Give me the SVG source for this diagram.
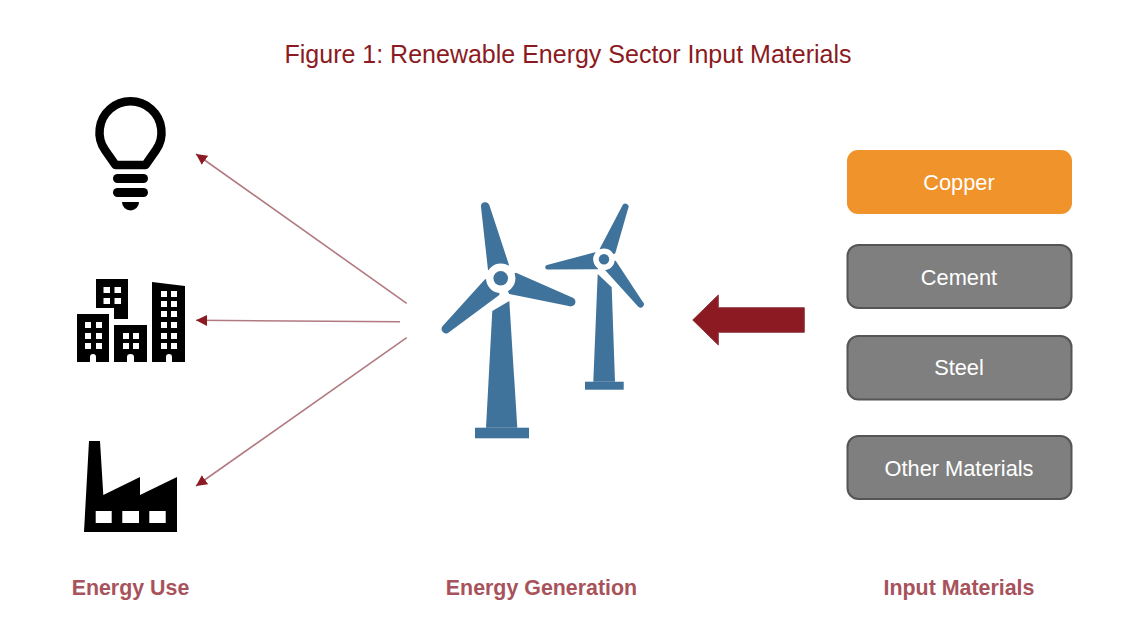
<svg xmlns="http://www.w3.org/2000/svg" width="1129" height="620" viewBox="0 0 1129 620">
<style>
text{font-family:"Liberation Sans",Arial,sans-serif;text-anchor:middle}
.title{font-size:25px;fill:#8b1a22}
.cap{font-size:21.400px;font-weight:700;fill:#a8525b}
.lbl{font-size:21.800px;fill:#fff}
.box{stroke-width:2}
.gray{fill:#7f7f7f;stroke:#555}
.w{fill:#fff}
.k{fill:#000}
.t{fill:#3f739b}
.c{stroke:#b17a80;stroke-width:1.6;fill:none;marker-end:url(#h)}
</style>
<defs>
<marker id="h" markerUnits="userSpaceOnUse" markerWidth="12" markerHeight="12" refX="11" refY="5.500" orient="auto"><path d="M0 0L11 5.500L0 11Z" fill="#8b1a22"/></marker>
</defs>
<text class="title" x="568" y="63">Figure 1: Renewable Energy Sector Input Materials</text>
<g id="bulb">
<path d="M115.500 165L105 150A31 31 0 1 1 156 150L145.500 165Z" fill="none" stroke="#000" stroke-width="8.500" stroke-linejoin="round"/>
<rect class="k" x="113" y="174" width="35" height="9" rx="4.500"/>
<rect class="k" x="113" y="188" width="35" height="9" rx="4.500"/>
<path class="k" d="M122 202H139A8.500 8.500 0 0 1 122 202Z"/>
</g>
<g id="buildings">
<path class="k" d="M96 279H128V319H114V308H96Z"/>
<path class="k" d="M77 314H109V362H96V357Q96 354 93 354Q90 354 90 357V362H77Z"/>
<path class="k" d="M114 325H147V362H134V357Q134 354 130.500 354Q127 354 127 357V362H114Z"/>
<path class="k" d="M152 282L185 286V362H172V357Q172 354 169 354Q166 354 166 357V362H152Z"/>
<g class="w">
<rect x="103.500" y="287" width="6.500" height="6"/><rect x="114.500" y="287" width="6.500" height="6"/><rect x="103.500" y="298" width="6.500" height="6"/><rect x="114.500" y="298" width="6.500" height="6"/>
<rect x="85" y="322" width="6" height="6"/><rect x="96" y="322" width="6" height="6"/><rect x="85" y="333" width="6" height="6"/><rect x="96" y="333" width="6" height="6"/><rect x="85" y="343" width="6" height="6"/><rect x="96" y="343" width="6" height="6"/>
<rect x="123" y="333" width="6" height="6"/><rect x="133" y="333" width="6" height="6"/><rect x="123" y="343" width="6" height="6"/><rect x="133" y="343" width="6" height="6"/>
<rect x="161" y="291" width="6" height="6"/><rect x="171" y="291" width="6" height="6"/><rect x="161" y="301" width="6" height="6"/><rect x="171" y="301" width="6" height="6"/><rect x="161" y="311" width="6" height="6"/><rect x="171" y="311" width="6" height="6"/><rect x="161" y="322" width="6" height="6"/><rect x="171" y="322" width="6" height="6"/><rect x="161" y="333" width="6" height="6"/><rect x="171" y="333" width="6" height="6"/><rect x="161" y="343" width="6" height="6"/><rect x="171" y="343" width="6" height="6"/>
</g>
</g>
<g id="factory">
<path class="k" d="M89 441H100L103.300 495L140 477V495L177 477V532H84Z"/>
<g class="w"><rect x="95.700" y="511" width="16" height="12"/><rect x="122.300" y="511" width="16.700" height="12"/><rect x="149.300" y="511" width="16.400" height="12"/></g>
</g>
<g id="connectors">
<path class="c" d="M406.700 303.300L196 154"/>
<path class="c" d="M400 321.700L196 320.300"/>
<path class="c" d="M406.700 337.700L196 486"/>
<path d="M804.300 307.700H718.300V295L692.700 320L718.300 345V332.300H804.300Z" fill="#8b1a22" stroke="#8f3a40"/>
</g>
<g id="turbines">
<path class="t" d="M481 207A4.300 4.300 0 0 1 489.300 205L509 265L500.700 278.300L488 270Z"/>
<path class="t" d="M516 272.700L571.700 297.300A4.500 4.500 0 0 1 570 306.300L509.300 294L500.700 278.300Z"/>
<path class="t" d="M485 279.300L442.700 326A4.500 4.500 0 0 0 448 333L499.300 295L500.700 278.300Z"/>
<circle class="w" cx="500.700" cy="278.300" r="14.700"/>
<circle class="t" cx="500.700" cy="278.300" r="7.300"/>
<path class="t" d="M492.300 311L509.300 301L517.300 427.700H486Z"/>
<rect class="t" x="475" y="427.700" width="54" height="10.600"/>
<path class="t" d="M600 248.300L622.700 205A3.300 3.300 0 0 1 628.700 206.500L615.300 253.300L604 259.300Z"/>
<path class="t" d="M595 252.300L547 265A2.300 2.300 0 0 0 547 269.500L597.700 269.300L604 259.300Z"/>
<path class="t" d="M615.700 260.700L642.700 301.700A3.200 3.200 0 0 1 638.300 306.700L605 270L604 259.300Z"/>
<circle class="w" cx="604" cy="259.300" r="10.800"/>
<circle class="t" cx="604" cy="259.300" r="5.200"/>
<path class="t" d="M597.700 274L611.700 287.300L615 381.700H593.300Z"/>
<rect class="t" x="585" y="381.700" width="38.700" height="8"/>
</g>
<g id="copper"><rect x="847" y="150" width="225" height="64" rx="11" fill="#f0932b"/><text class="lbl" x="959" y="190">Copper</text></g>
<g id="cement"><rect class="box gray" x="847.500" y="245" width="224" height="63" rx="11"/><text class="lbl" x="959" y="285">Cement</text></g>
<g id="steel"><rect class="box gray" x="847.500" y="336" width="224" height="63.500" rx="11"/><text class="lbl" x="959" y="375">Steel</text></g>
<g id="other"><rect class="box gray" x="847.500" y="436" width="224" height="63" rx="11"/><text class="lbl" x="959" y="476">Other Materials</text></g>
<text class="cap" x="130.500" y="595">Energy Use</text>
<text class="cap" x="541.500" y="595">Energy Generation</text>
<text class="cap" x="959" y="595">Input Materials</text>
</svg>
